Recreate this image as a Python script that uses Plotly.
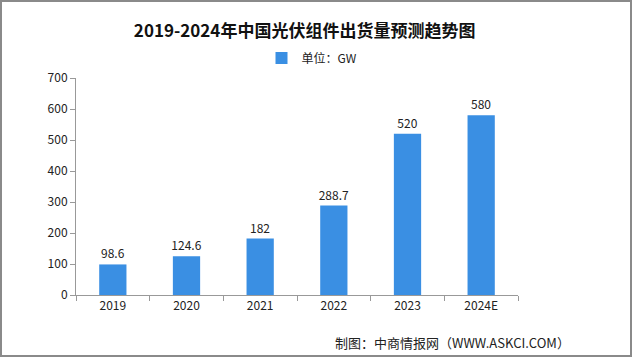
import plotly.graph_objects as go

categories = ["2019", "2020", "2021", "2022", "2023", "2024E"]
values = [98.6, 124.6, 182, 288.7, 520, 580]
value_labels = ["98.6", "124.6", "182", "288.7", "520", "580"]
y_ticks = [0, 100, 200, 300, 400, 500, 600, 700]

BAR = "#3a8fe3"
FONT = "Noto Sans CJK SC"

# plot area in pixels (for converting to paper coords)
L, R, T, B = 76, 122, 78, 63
PW, PH = 640 - L - R, 358 - T - B

fig = go.Figure()
fig.add_trace(go.Bar(
    x=categories, y=values, name="单位：GW",
    marker=dict(color=BAR, line=dict(width=0)),
    text=value_labels, textposition="outside", constraintext="none",
    textfont=dict(size=12, color="#222222", family=FONT),
    cliponaxis=False, showlegend=True,
))

fig.update_layout(
    width=640, height=358,
    margin=dict(l=L, r=R, t=T, b=B, autoexpand=False),
    paper_bgcolor="#ffffff", plot_bgcolor="#ffffff",
    bargap=0.63,
    title=dict(text="<b>2019-2024年中国光伏组件出货量预测趋势图</b>",
               x=0.476, xref="container", xanchor="center", y=1 - 31 / 358, yanchor="middle",
               font=dict(size=17, color="#111111", family=FONT)),
    legend=dict(orientation="h", x=(312 - L) / PW, xanchor="center", xref="paper",
                y=1 + (T - 58) / PH, yref="paper", yanchor="middle",
                font=dict(size=12, color="#222222", family=FONT),
                bgcolor="rgba(0,0,0,0)"),
    xaxis=dict(showline=True, linecolor="#999999", linewidth=1,
               ticks="outside", tickson="boundaries", ticklen=5, tickcolor="#999999",
               tickfont=dict(size=12, color="#222222", family=FONT),
               showgrid=False),
    yaxis=dict(range=[0, 700], tickvals=y_ticks, showline=True, linecolor="#999999",
               linewidth=1, ticks="outside", ticklen=5, tickcolor="#999999",
               tickfont=dict(size=12, color="#222222", family=FONT),
               showgrid=False, zeroline=False),
    annotations=[dict(text="制图：中商情报网（WWW.ASKCI.COM）", xref="paper", yref="paper",
                      x=(572 - L) / PW, y=-(342 - (T + PH)) / PH, xanchor="right", yanchor="middle",
                      showarrow=False,
                      font=dict(size=13, color="#222222", family=FONT))],
    shapes=[dict(type="rect", xref="paper", yref="paper",
                 x0=(1 - L) / PW, x1=(631 - L) / PW,
                 y0=(T + PH - 356) / PH, y1=(T + PH - 1) / PH,
                 line=dict(color="#8a8a8a", width=2), fillcolor="rgba(0,0,0,0)", layer="below")],
)

fig.write_html("out.html", config={"displayModeBar": False},
               post_script="document.body.style.margin='0';document.body.style.padding='0';")
